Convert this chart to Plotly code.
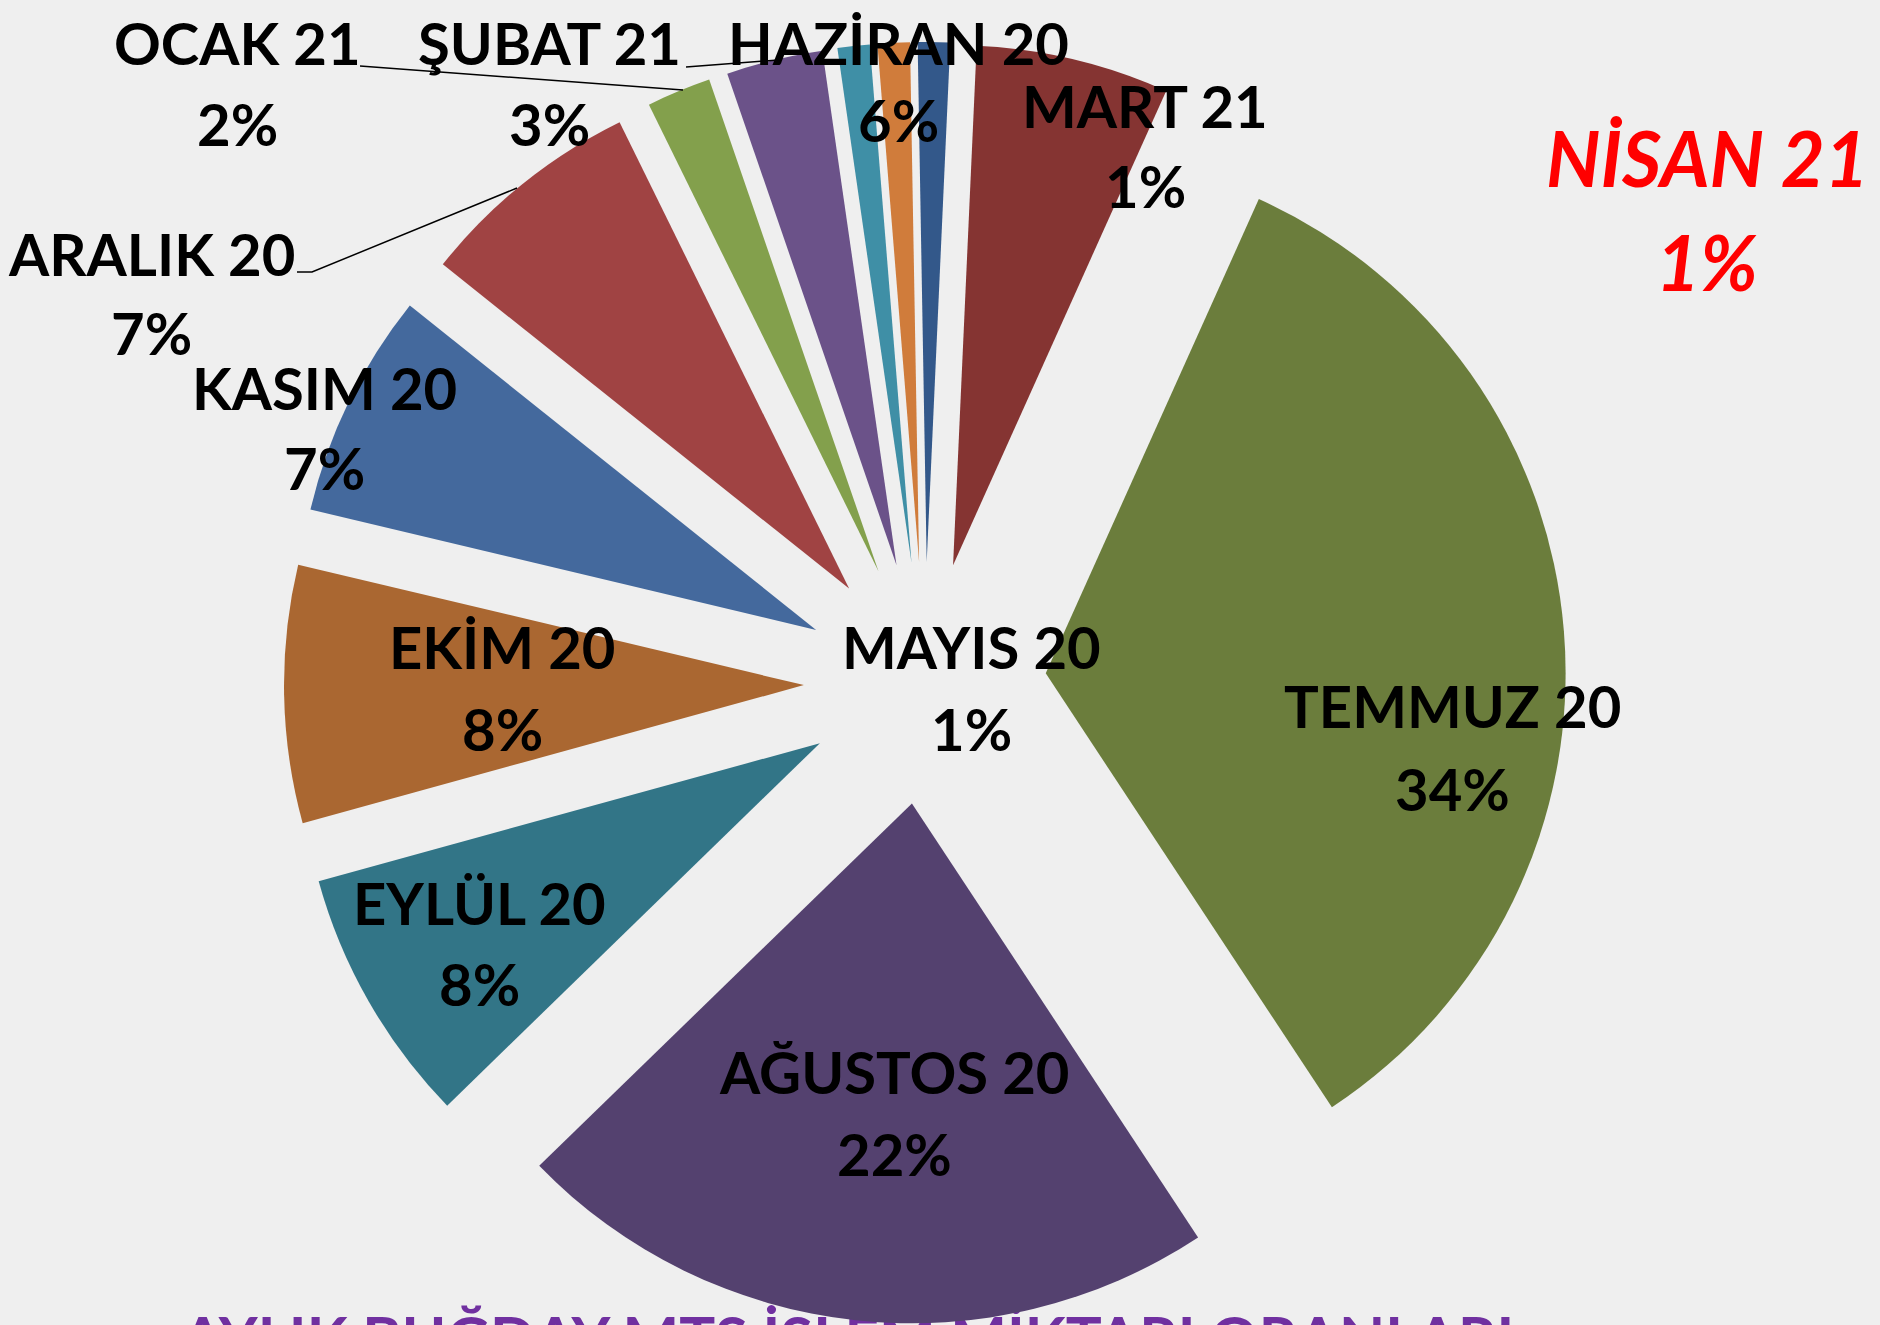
import plotly.graph_objects as go

# ---- data -------------------------------------------------------------
months = ["MAYIS 20", "HAZİRAN 20", "TEMMUZ 20", "AĞUSTOS 20", "EYLÜL 20",
          "EKİM 20", "KASIM 20", "ARALIK 20", "OCAK 21", "ŞUBAT 21",
          "MART 21", "NİSAN 21"]
shares = [1, 6, 34, 22, 8, 8, 7, 7, 2, 3, 1, 1]
slice_colors = ["#33588a", "#853432", "#6b7d3c", "#54416f", "#327587",
                "#aa6731", "#44699d", "#a04343", "#83a04c", "#6b5289",
                "#3f8fa6", "#d07c3b"]
title_text = "AYLIK BUĞDAY MTS İŞLEM MİKTARI ORANLARI"

# ---- layout helpers -----------------------------------------------------
W, H = 1880, 1325
T, B = 42, 1
BG = "#efefef"


def px(x):
    return x / W


def py(y):
    return (H - B - y) / (H - T - B)


# label placement (pixel centres of the two text lines)
label_pos = {
    "OCAK 21": (238, 42, 123),
    "ŞUBAT 21": (549, 42, 123),
    "HAZİRAN 20": (898, 42, 120),
    "MART 21": (1145, 105, 186),
    "ARALIK 20": (151, 253, 333),
    "KASIM 20": (324, 387, 468),
    "EKİM 20": (502, 646, 728),
    "MAYIS 20": (971, 646, 728),
    "TEMMUZ 20": (1452, 705, 788),
    "EYLÜL 20": (480, 902, 983),
    "AĞUSTOS 20": (894, 1071, 1153),
    "NİSAN 21": (1707, 157, 261),
}

fig = go.Figure()
fig.add_trace(go.Pie(
    labels=months,
    values=shares,
    sort=False,
    direction="clockwise",
    rotation=-1,
    pull=[0.233] * len(shares),
    marker=dict(colors=slice_colors, line=dict(width=0)),
    textinfo="none",
    hoverinfo="label+percent",
    showlegend=False,
    domain=dict(x=[(925 - 641) / W, (925 + 641) / W], y=[0, 1]),
))

annotations = []
for m, v in zip(months, shares):
    x, y1, y2 = label_pos[m]
    if m == "NİSAN 21":
        font = dict(family="Lato", size=76, color="#ff0000",
                    weight="bold", style="italic")
    else:
        font = dict(family="Lato", size=58, color="#000000", weight="bold")
    for txt, yy in ((m, y1), (f"{v}%", y2)):
        annotations.append(dict(
            x=px(x), y=py(yy), xref="paper", yref="paper",
            text=txt, showarrow=False, xanchor="center", yanchor="middle",
            font=font,
        ))

line_style = dict(color="#000000", width=1.5)
shapes = [
    dict(type="line", xref="paper", yref="paper",
         x0=px(360), y0=py(66), x1=px(683), y1=py(90), line=line_style),
    dict(type="line", xref="paper", yref="paper",
         x0=px(686), y0=py(67), x1=px(778), y1=py(60), line=line_style),
    dict(type="path", xref="paper", yref="paper",
         path=f"M {px(297)} {py(272)} L {px(312)} {py(272)} L {px(517)} {py(188)}",
         line=line_style),
    # title placed beneath the pie (partly hidden by it, cut by the page edge)
    dict(type="rect", xref="paper", yref="paper", layer="below",
         x0=px(300), x1=px(1396), y0=py(1368), y1=py(1304),
         line=dict(width=0), fillcolor="rgba(0,0,0,0)",
         label=dict(text=title_text, textposition="middle center",
                    font=dict(family="Lato", size=60, color="#7030a0",
                              weight="bold"))),
]

fig.update_layout(
    width=W, height=H,
    margin=dict(l=0, r=0, t=T, b=B),
    paper_bgcolor=BG,
    plot_bgcolor=BG,
    annotations=annotations,
    shapes=shapes,
    showlegend=False,
)

fig.write_html(
    "out.html",
    config={"displayModeBar": False},
    post_script=(
        "document.body.style.margin='0';"
        "document.body.style.padding='0';"
        f"document.body.style.background='{BG}';"
        "document.body.style.overflow='hidden';"
    ),
)
